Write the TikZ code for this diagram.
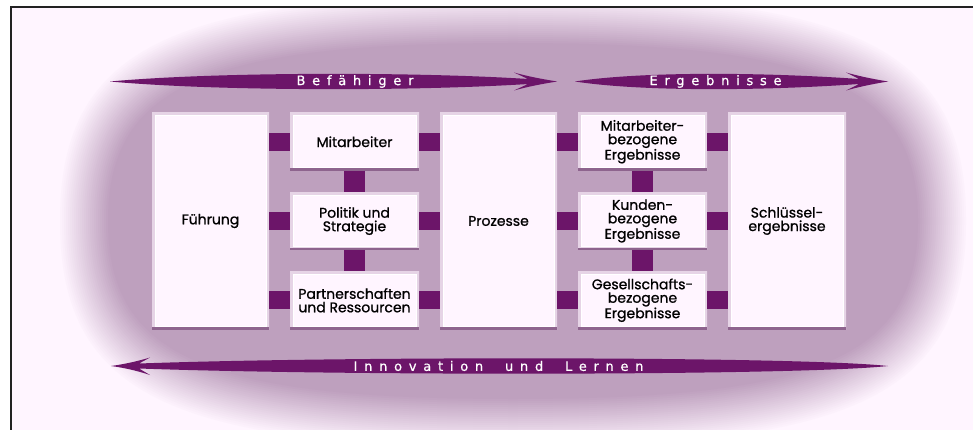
\documentclass[tikz,border=0pt]{standalone}
\usepackage{fontspec}
\setmainfont{Poppins}[FakeBold=0.9]
\newfontfamily\arrowfont[LetterSpace=52,FakeBold=0.6]{DejaVu Sans}
\usetikzlibrary{calc}

\definecolor{bgpink}{HTML}{FFF5FF}
\definecolor{mauve}{HTML}{BEA0BE}
\definecolor{plum}{HTML}{6C1569}
\definecolor{boxfill}{HTML}{FFF5FF}
\definecolor{boxrim}{HTML}{E6D4E6}
\definecolor{boxshadow}{HTML}{8E648E}
\definecolor{framegray}{HTML}{222222}

\tikzset{
  box/.style={fill=boxfill, inner sep=0pt, align=center,
    font=\fontsize{14}{13.5}\selectfont,
    path picture={
      \draw[boxrim, line width=5pt]
        (path picture bounding box.north west) rectangle (path picture bounding box.south east);
      \draw[white, line width=1pt]
        ([shift={(3pt,-3pt)}]path picture bounding box.north west) rectangle
        ([shift={(-3pt,3pt)}]path picture bounding box.south east);
      \draw[boxshadow, line width=4pt]
        (path picture bounding box.south west) -- (path picture bounding box.south east);
    }},
  tallbox/.style={box, minimum width=117pt, minimum height=216pt},
  smallbox/.style={box, minimum width=129pt, minimum height=57.5pt},
  hlink/.style={draw=plum, line width=18pt},
  vlink/.style={draw=plum, line width=21pt},
  banner/.style={fill=plum},
  bannertext/.style={text=white, inner sep=0pt, font=\arrowfont\fontsize{13}{13}\selectfont}
}

\begin{document}
\begin{tikzpicture}[x=1pt, y=-1pt]
  \useasboundingbox (0,0) rectangle (973,430);
  \fill[white] (0,0) rectangle (973,430);
  \fill[bgpink] (11,7) rectangle (973,430);

  % soft oval backdrop, built from nested rounded ovals
  \begin{scope}
    \clip (12,8) rectangle (973,430);
    \foreach \i in {0,...,25}{
      \pgfmathsetmacro\ra{455-2*\i}
      \pgfmathsetmacro\rb{228-2*\i}
      \pgfmathtruncatemacro\pc{100*\i/25}
      \fill[mauve!\pc!bgpink]
        ({513+\ra},221)
          .. controls ({513+\ra},{221+0.76*\rb}) and ({513+0.76*\ra},{221+\rb}) .. (513,{221+\rb})
          .. controls ({513-0.76*\ra},{221+\rb}) and ({513-\ra},{221+0.76*\rb}) .. ({513-\ra},221)
          .. controls ({513-\ra},{221-0.76*\rb}) and ({513-0.76*\ra},{221-\rb}) .. (513,{221-\rb})
          .. controls ({513+0.76*\ra},{221-\rb}) and ({513+\ra},{221-0.76*\rb}) .. cycle;
    }
  \end{scope}

  % frame lines
  \draw[framegray, line width=2pt] (973,7) -- (11,7) -- (11,430);

  % boxes
  \node[tallbox]  (fuehrung) at (210.5,221) {Führung};
  \node[smallbox] (mitarb)   at (354.5,141.75) {Mitarbeiter};
  \node[smallbox] (politik)  at (354.5,221) {Politik und\\Strategie};
  \node[smallbox] (partner)  at (354.5,300.25) {Partnerschaften\\und Ressourcen};
  \node[tallbox]  (prozesse) at (498.5,221) {Prozesse};
  \node[smallbox] (mbez)     at (642.5,141.75) {Mitarbeiter-\\bezogene\\Ergebnisse};
  \node[smallbox] (kbez)     at (642.5,221) {Kunden-\\bezogene\\Ergebnisse};
  \node[smallbox] (gbez)     at (642.5,300.25) {Gesellschafts-\\bezogene\\Ergebnisse};
  \node[tallbox, minimum width=118pt] (schluessel) at (787,221) {Schlüssel-\\ergebnisse};

  % links between boxes
  \foreach \m in {mitarb,politik,partner}{
    \draw[hlink] (fuehrung.east |- \m.west) -- (\m.west);
    \draw[hlink] (\m.east) -- (prozesse.west |- \m.east);
  }
  \foreach \m in {mbez,kbez,gbez}{
    \draw[hlink] (prozesse.east |- \m.west) -- (\m.west);
    \draw[hlink] (\m.east) -- (schluessel.west |- \m.east);
  }
  \draw[vlink] (mitarb.south) -- (politik.north);
  \draw[vlink] (politik.south) -- (partner.north);
  \draw[vlink] (mbez.south) -- (kbez.north);
  \draw[vlink] (kbez.south) -- (gbez.north);

  % banner arrows
  \fill[banner] (110,81.5)
    .. controls (220,71.5) and (420,72) .. (528,79)
    -- (514,72.5) .. controls (530,77) and (545,79.5) .. (557,81.5)
    .. controls (545,83.5) and (530,86) .. (514,90.5)
    -- (528,84)
    .. controls (420,91) and (220,91.5) .. cycle;
  \node[bannertext] (befaehiger) at (355,81.5) {Befähiger};

  \fill[banner] (575,81.5)
    .. controls (640,71.5) and (760,72) .. (859,79)
    -- (846,72.5) .. controls (862,77) and (876,79.5) .. (888,81.5)
    .. controls (876,83.5) and (862,86) .. (846,90.5)
    -- (859,84)
    .. controls (760,91) and (640,91.5) .. cycle;
  \node[bannertext] (ergebnisse) at (715.5,81.5) {Ergebnisse};

  \fill[banner] (888,366)
    .. controls (800,356.5) and (350,356) .. (139,363.5)
    -- (150,357.5) .. controls (135,362) and (122,364.5) .. (111,366)
    .. controls (122,367.5) and (135,370) .. (150,375)
    -- (139,368.5)
    .. controls (350,376) and (800,375.5) .. cycle;
  \node[bannertext] (innovation) at (498.5,366) {Innovation~\ und~\ Lernen};
\end{tikzpicture}
\end{document}
